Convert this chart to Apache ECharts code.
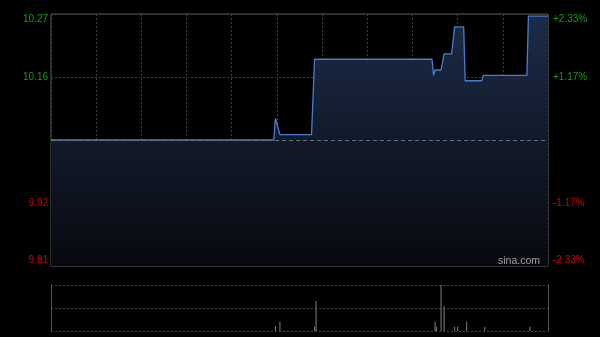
<!DOCTYPE html>
<html>
<head>
<meta charset="utf-8">
<script src="https://cdn.jsdelivr.net/npm/echarts@6/dist/echarts.min.js"></script>
<style>html,body{margin:0;padding:0;background:#000;}#c{width:600px;height:337px;}</style>
</head>
<body>
<div id="c"></div>
<script>
// minutes since 09:30 (HK session: 330 trading minutes)
var priceTimes  = [0, 148, 149, 150, 152, 173, 175, 253, 254, 255, 259, 261, 266, 268, 274, 275, 286, 287, 316, 317, 330];
var priceValues = [10.04, 10.04, 10.08, 10.08, 10.05, 10.05, 10.19, 10.19, 10.16, 10.17, 10.17, 10.20, 10.20, 10.25, 10.25, 10.15, 10.15, 10.16, 10.16, 10.27, 10.27];
var volTimes  = [149, 152, 175, 176, 255, 256, 259, 261, 268, 270, 276, 288, 318];
var volValues = [11, 20, 9, 65, 20, 9, 100, 54, 9, 9, 20, 9, 9];
var prevClose = 10.04;
var priceMin = 9.806, priceMax = 10.274;
var tickValues = [9.806, 9.923, 10.157, 10.274];
var leftLabels = ['9.81', '9.92', '10.16', '10.27'];
var rightLabels = ['-2.33%', '-1.17%', '+1.17%', '+2.33%'];
var labelKinds = ['dnB', 'dn', 'up', 'upT'];
var watermark = 'sina.com';

var lineData = priceTimes.map(function (t, i) { return [t, priceValues[i]]; });
var volData = volTimes.map(function (t, i) { return [t, volValues[i]]; });

function labelFmt(arr) {
  return function (v) {
    var best = 0, d = 1e9;
    for (var i = 0; i < tickValues.length; i++) {
      var dd = Math.abs(tickValues[i] - v);
      if (dd < d) { d = dd; best = i; }
    }
    return '{' + labelKinds[best] + '|' + arr[best] + '}';
  };
}
var FONT = '"Liberation Sans", Arial, sans-serif';
var rich = {
  up:  { color: '#0ea00e', fontSize: 10, fontFamily: FONT },
  upT: { color: '#0ea00e', fontSize: 10, fontFamily: FONT, padding: [10, 0, 0, 0] },
  dn:  { color: '#d00000', fontSize: 10, fontFamily: FONT },
  dnB: { color: '#d00000', fontSize: 10, fontFamily: FONT, padding: [0, 0, 12, 0] }
};

var chart = echarts.init(document.getElementById('c'), null, { renderer: 'canvas' });
chart.setOption({
  backgroundColor: '#000',
  animation: false,
  grid: [
    { left: 51, right: 52, top: 14, height: 252, show: true, borderColor: '#555', borderWidth: 1, backgroundColor: 'transparent' },
    { left: 51, right: 52, top: 285, height: 46, show: false }
  ],
  xAxis: [
    { type: 'value', gridIndex: 0, min: 0, max: 330, interval: 30,
      axisLine: { show: false }, axisTick: { show: false }, axisLabel: { show: false },
      splitLine: { show: true, lineStyle: { color: '#404040', type: [2, 2], width: 1 } } },
    { type: 'value', gridIndex: 1, min: 0, max: 330, interval: 30,
      axisLine: { show: false }, axisTick: { show: false }, axisLabel: { show: false },
      splitLine: { show: false } }
  ],
  yAxis: [
    { type: 'value', gridIndex: 0, min: priceMin, max: priceMax, position: 'left',
      axisLine: { show: false }, axisTick: { show: false, customValues: tickValues },
      axisLabel: { show: true, customValues: tickValues, margin: 3, formatter: labelFmt(leftLabels), rich: rich },
      splitLine: { show: true, lineStyle: { color: '#404040', type: [2, 2], width: 1 } } },
    { type: 'value', gridIndex: 0, min: priceMin, max: priceMax, position: 'right',
      axisLine: { show: false }, axisTick: { show: false, customValues: tickValues },
      axisLabel: { show: true, customValues: tickValues, margin: 5, formatter: labelFmt(rightLabels), rich: rich },
      splitLine: { show: false } },
    { type: 'value', gridIndex: 1, min: 0, max: 100, interval: 50, position: 'left',
      axisLine: { show: true, lineStyle: { color: '#555' } }, axisTick: { show: false }, axisLabel: { show: false },
      splitLine: { show: true, lineStyle: { color: '#444', type: [2, 2], width: 1 } } },
    { type: 'value', gridIndex: 1, min: 0, max: 100, interval: 50, position: 'right',
      axisLine: { show: true, onZero: false, lineStyle: { color: '#555' } }, axisTick: { show: false }, axisLabel: { show: false },
      splitLine: { show: false } }
  ],
  graphic: [
    { type: 'text', left: 498, top: 256, z: 100, silent: true,
      style: { text: watermark, fill: '#a0a0a0', fontSize: 10.5, fontFamily: 'Liberation Sans' } }
  ],
  series: [
    { type: 'line', xAxisIndex: 0, yAxisIndex: 0, data: lineData, symbol: 'none', smooth: false,
      lineStyle: { color: '#4a7ccc', width: 1.3 },
      areaStyle: { opacity: 1, origin: 'start', color: new echarts.graphic.LinearGradient(0, 0, 0, 1, [
        { offset: 0, color: '#1c2b48' }, { offset: 1, color: '#07090e' }]) },
      markLine: { silent: true, symbol: 'none', label: { show: false },
        lineStyle: { color: '#6a6f78', type: [4, 3], width: 1 },
        data: [{ yAxis: prevClose }] },
      z: 2 },
    { type: 'bar', xAxisIndex: 1, yAxisIndex: 2, data: volData, barWidth: 1,
      itemStyle: { color: '#808080' } }
  ]
});
</script>
</body>
</html>
